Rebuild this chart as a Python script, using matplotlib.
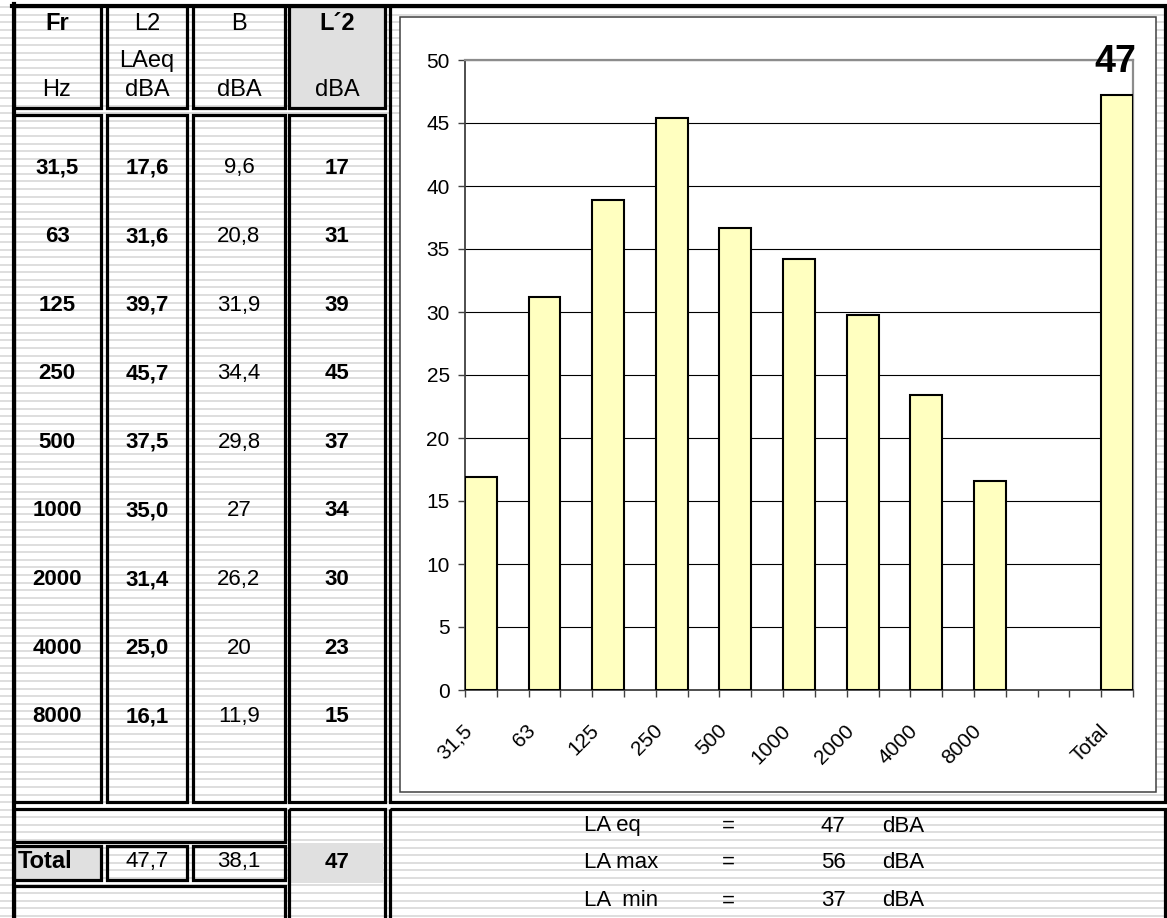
import numpy as np
import matplotlib
matplotlib.use('Agg')
import matplotlib.pyplot as plt
from matplotlib.patches import Rectangle
from matplotlib.transforms import offset_copy

plt.rcParams['font.family'] = ['Liberation Sans', 'DejaVu Sans']

# table values
freqs = ['31,5', '63', '125', '250', '500', '1000', '2000', '4000', '8000']
l2_vals = ['17,6', '31,6', '39,7', '45,7', '37,5', '35,0', '31,4', '25,0', '16,1']
b_vals = ['9,6', '20,8', '31,9', '34,4', '29,8', '27', '26,2', '20', '11,9']
l2c_vals = ['17', '31', '39', '45', '37', '34', '30', '23', '15']
total_l2, total_b, total_l2c = '47,7', '38,1', '47'

# chart values
categories = freqs + ['Total']
bar_values = [16.9, 31.2, 38.9, 45.4, 36.7, 34.2, 29.8, 23.4, 16.6, 47.2]

summary_names = ['LA eq', 'LA max', 'LA  min']
summary_vals = ['47', '56', '37']

W, H = 1167, 918
fig = plt.figure(figsize=(W / 100, H / 100), dpi=100)
bg = fig.add_axes([0, 0, 1, 1])
bg.set_xlim(0, W)
bg.set_ylim(H, 0)
bg.axis('off')

# spreadsheet stripes
for y in np.arange(7.3, H, 7.57):
    bg.plot([0, W], [y, y], color='#dedede', lw=1.4, zorder=0)

def cell(x0, y0, x1, y1, fill=None, lw=2.3):
    if fill:
        bg.add_patch(Rectangle((x0, y0), x1 - x0, y1 - y0, facecolor=fill,
                               edgecolor='none', zorder=1))
    bg.add_patch(Rectangle((x0, y0), x1 - x0, y1 - y0, facecolor='none',
                           edgecolor='black', lw=lw, zorder=3))

gray = '#e0e0e0'
cols = [(14, 101), (107, 187), (193, 285), (289, 385)]
for i, (a, b) in enumerate(cols):
    cell(a, 6, b, 108, fill=gray if i == 3 else None)
    cell(a, 115, b, 802)
cell(14, 809, 285, 842)
bg.add_patch(Rectangle((291, 843), 92, 40, facecolor=gray, edgecolor='none', zorder=1))
cell(289, 809, 385, 930)
cell(14, 846, 101, 880, fill=gray)
cell(107, 846, 187, 880)
cell(193, 846, 285, 880)
cell(14, 886, 285, 930)
cell(390, 6, 1165, 802)
cell(390, 809, 1165, 930)
# top and left border a bit heavier
bg.plot([12, W], [5.5, 5.5], color='black', lw=3, zorder=4)
bg.plot([13.5, 13.5], [4, H], color='black', lw=3, zorder=4)

# chart frame
bg.add_patch(Rectangle((400, 17), 756, 775, facecolor='white', edgecolor='#404040',
                       lw=1.1, zorder=2))

centers = [57, 147, 239, 337]
fs = 17
vs = 16
bg.text(centers[0], 24, 'Fr', ha='center', va='center', fontsize=fs, fontweight='bold', zorder=5)
bg.text(centers[1], 24, 'L2', ha='center', va='center', fontsize=fs, zorder=5)
bg.text(centers[2], 24, 'B', ha='center', va='center', fontsize=fs, zorder=5)
bg.text(centers[3], 24, 'L\u00b42', ha='center', va='center', fontsize=fs, fontweight='bold', zorder=5)
bg.text(centers[1], 61, 'LAeq', ha='center', va='center', fontsize=fs, zorder=5)
bg.text(centers[0], 90, 'Hz', ha='center', va='center', fontsize=fs, zorder=5)
for c in centers[1:]:
    bg.text(c, 90, 'dBA', ha='center', va='center', fontsize=fs, zorder=5)

for k in range(len(freqs)):
    y = 168 + 68.6 * k
    bg.text(centers[0], y, freqs[k], ha='center', va='center', fontsize=vs, fontweight='bold', zorder=5)
    bg.text(centers[1], y, l2_vals[k], ha='center', va='center', fontsize=vs, fontweight='bold', zorder=5)
    bg.text(centers[2], y, b_vals[k], ha='center', va='center', fontsize=vs, zorder=5)
    bg.text(centers[3], y, l2c_vals[k], ha='center', va='center', fontsize=vs, fontweight='bold', zorder=5)

bg.text(18, 862, 'Total', ha='left', va='center', fontsize=17, fontweight='bold', zorder=5)
bg.text(centers[1], 862, total_l2, ha='center', va='center', fontsize=vs, zorder=5)
bg.text(centers[2], 862, total_b, ha='center', va='center', fontsize=vs, zorder=5)
bg.text(centers[3], 862, total_l2c, ha='center', va='center', fontsize=vs, fontweight='bold', zorder=5)

for name, val, y in zip(summary_names, summary_vals, [826, 862, 901]):
    bg.text(584, y, name, ha='left', va='center', fontsize=vs, zorder=5)
    bg.text(728, y, '=', ha='center', va='center', fontsize=vs, zorder=5)
    bg.text(833, y, val, ha='center', va='center', fontsize=vs, zorder=5)
    bg.text(903, y, 'dBA', ha='center', va='center', fontsize=vs, zorder=5)

# bar chart
ax = fig.add_axes([465 / W, (H - 690) / H, 668 / W, 630 / H])
ax.patch.set_alpha(0)
slots = list(range(0, 2 * len(freqs), 2)) + [2 * len(freqs) + 2]
ax.bar(slots, bar_values, width=1.0, color='#ffffc0', edgecolor='black', lw=1.5, zorder=3)
ax.set_xlim(-0.5, slots[-1] + 0.5)
ax.set_ylim(0, 50)
ax.set_yticks(range(0, 51, 5))
ax.tick_params(axis='y', length=5, width=1, labelsize=15, pad=6, color='#404040')
ax.set_xticks(np.arange(-0.5, slots[-1] + 1, 1.0))
ax.set_xticklabels([])
ax.tick_params(axis='x', length=5, width=1, color='#404040')
ax.set_axisbelow(True)
ax.yaxis.grid(True, color='black', lw=0.8)
for side in ['top', 'right']:
    ax.spines[side].set_color('#8c8c8c')
    ax.spines[side].set_linewidth(1.6)
for side in ['left', 'bottom']:
    ax.spines[side].set_color('#404040')
    ax.spines[side].set_linewidth(1.3)

trans = offset_copy(ax.get_xaxis_transform(), fig=fig, x=-5, y=-31, units='dots')
for s, lab in zip(slots, categories):
    ax.text(s, 0, lab, transform=trans, rotation=45, ha='right', va='top', fontsize=15)

ax.annotate(total_l2c, (slots[-1], bar_values[-1]), xytext=(-1, 17), textcoords='offset points',
            ha='center', va='baseline', fontsize=27, fontweight='bold', annotation_clip=False)

fig.savefig('out.png', dpi=100)
